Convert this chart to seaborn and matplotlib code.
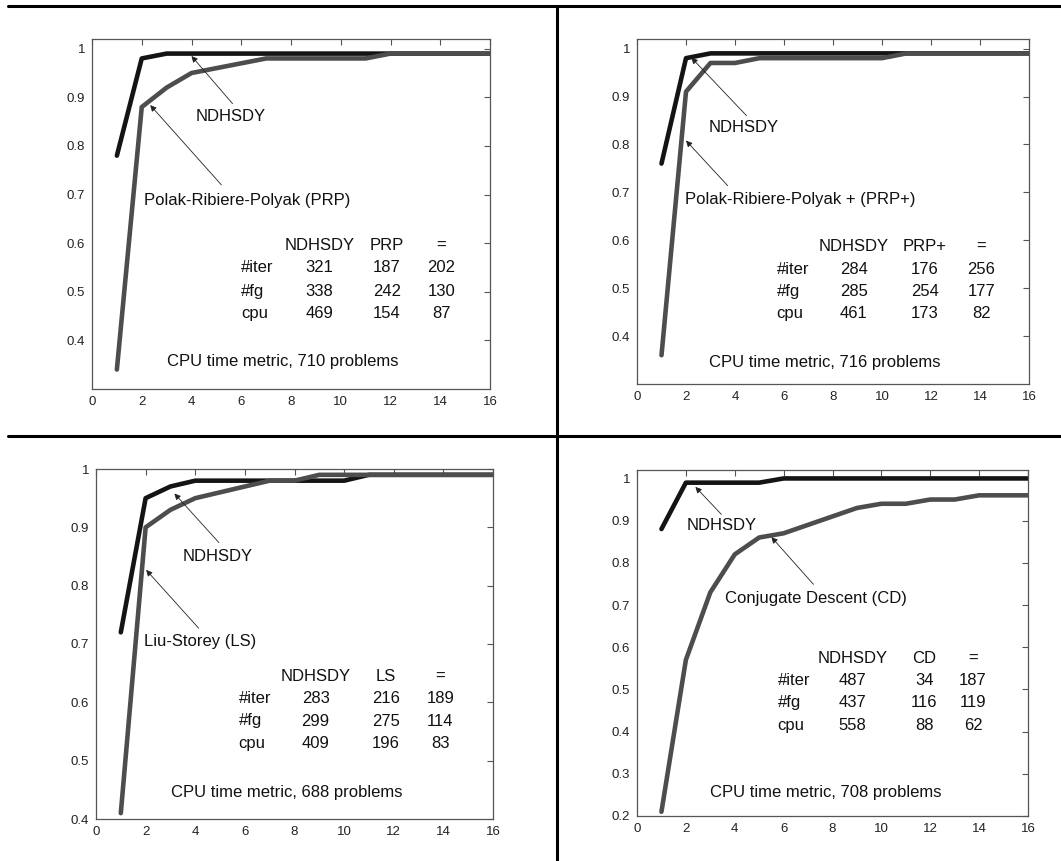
import numpy as np
import pandas as pd
import matplotlib
matplotlib.use("Agg")
import matplotlib.pyplot as plt
from matplotlib.ticker import FuncFormatter, MultipleLocator
import seaborn as sns

# ---- data ----
x_vals = list(range(1, 17))

prp_ndhsdy = [0.78, 0.98, 0.99, 0.99, 0.99, 0.99, 0.99, 0.99, 0.99, 0.99, 0.99, 0.99, 0.99, 0.99, 0.99, 0.99]
prp_other = [0.34, 0.88, 0.92, 0.95, 0.96, 0.97, 0.98, 0.98, 0.98, 0.98, 0.98, 0.99, 0.99, 0.99, 0.99, 0.99]

prpp_ndhsdy = [0.76, 0.98, 0.99, 0.99, 0.99, 0.99, 0.99, 0.99, 0.99, 0.99, 0.99, 0.99, 0.99, 0.99, 0.99, 0.99]
prpp_other = [0.36, 0.91, 0.97, 0.97, 0.98, 0.98, 0.98, 0.98, 0.98, 0.98, 0.99, 0.99, 0.99, 0.99, 0.99, 0.99]

ls_ndhsdy = [0.72, 0.95, 0.97, 0.98, 0.98, 0.98, 0.98, 0.98, 0.98, 0.98, 0.99, 0.99, 0.99, 0.99, 0.99, 0.99]
ls_other = [0.41, 0.90, 0.93, 0.95, 0.96, 0.97, 0.98, 0.98, 0.99, 0.99, 0.99, 0.99, 0.99, 0.99, 0.99, 0.99]

cd_ndhsdy = [0.88, 0.99, 0.99, 0.99, 0.99, 1.00, 1.00, 1.00, 1.00, 1.00, 1.00, 1.00, 1.00, 1.00, 1.00, 1.00]
cd_other = [0.21, 0.57, 0.73, 0.82, 0.86, 0.87, 0.89, 0.91, 0.93, 0.94, 0.94, 0.95, 0.95, 0.96, 0.96, 0.96]

row_labels = ["#iter", "#fg", "cpu"]
prp_table = [[321, 187, 202], [338, 242, 130], [469, 154, 87]]
prpp_table = [[284, 176, 256], [285, 254, 177], [461, 173, 82]]
ls_table = [[283, 216, 189], [299, 275, 114], [409, 196, 83]]
cd_table = [[487, 34, 187], [437, 116, 119], [558, 88, 62]]

sns.set_style("white")
plt.rcParams["font.family"] = ["Liberation Sans", "DejaVu Sans"]

W, H = 1061, 861
fig = plt.figure(figsize=(W / 100, H / 100), dpi=100)
fig.patch.set_facecolor("white")


def px_axes(l, t, r, b):
    return fig.add_axes([l / W, 1 - b / H, (r - l) / W, (b - t) / H])


def draw_panel(box, ndhsdy, other, short, long_name, table, problems, ylim, yticks,
               nd_arrow, nd_text, ot_arrow, ot_text, tab_y, tab_cols, tab_x, cap_xy):
    ax = px_axes(*box)
    df = pd.DataFrame({
        "tau": x_vals * 2,
        "rho": ndhsdy + other,
        "solver": ["NDHSDY"] * len(x_vals) + [short] * len(x_vals),
    })
    sns.lineplot(data=df, x="tau", y="rho", hue="solver",
                 palette={"NDHSDY": "#141414", short: "#4d4d4d"},
                 linewidth=3.3, legend=False, ax=ax, sort=False)
    ax.set_xlim(0, 16)
    ax.set_ylim(*ylim)
    ax.set_xlabel("")
    ax.set_ylabel("")
    ax.xaxis.set_major_locator(MultipleLocator(2))
    ax.set_yticks(yticks)
    ax.yaxis.set_major_formatter(FuncFormatter(lambda v, _: f"{v:g}"))
    ax.tick_params(direction="in", length=4, width=0.8, top=True, right=True,
                   labelsize=9.5, colors="#555555", labelcolor="#222222", pad=5)
    for s in ax.spines.values():
        s.set_color("#555555")
        s.set_linewidth(0.9)
    arrow = dict(arrowstyle="-|>", lw=0.6, color="#222222", mutation_scale=9,
                 shrinkA=0, shrinkB=0)
    ax.annotate("", xy=nd_arrow[0], xytext=nd_arrow[1], arrowprops=arrow)
    ax.annotate("", xy=ot_arrow[0], xytext=ot_arrow[1], arrowprops=arrow)
    ax.text(*nd_text, "NDHSDY", fontsize=12, ha="left", va="center", color="#111111")
    ax.text(*ot_text, long_name, fontsize=12, ha="left", va="center", color="#111111")
    # stats table
    heads = ["NDHSDY", short, "="]
    for cx, h in zip(tab_cols, heads):
        ax.text(cx, tab_y[0], h, fontsize=12, ha="center", va="center", color="#111111")
    for ry, lab, vals in zip(tab_y[1:], row_labels, table):
        ax.text(tab_x, ry, lab, fontsize=12, ha="left", va="center", color="#111111")
        for cx, v in zip(tab_cols, vals):
            ax.text(cx, ry, str(v), fontsize=12, ha="center", va="center", color="#111111")
    ax.text(*cap_xy, f"CPU time metric, {problems} problems", fontsize=12,
            ha="left", va="center", color="#111111")
    return ax


ticks_04 = [0.4, 0.5, 0.6, 0.7, 0.8, 0.9, 1.0]
ticks_02 = [0.2, 0.3, 0.4, 0.5, 0.6, 0.7, 0.8, 0.9, 1.0]

draw_panel((92, 39, 490, 389), prp_ndhsdy, prp_other, "PRP", "Polak-Ribiere-Polyak (PRP)",
           prp_table, 710, (0.30, 1.02), ticks_04,
           ((4.0, 0.985), (5.65, 0.887)), (4.18, 0.86),
           ((2.34, 0.884), (5.2, 0.72)), (2.1, 0.687),
           (0.595, 0.549, 0.50, 0.456), (9.15, 11.85, 14.05), 6.0, (3.0, 0.357))

draw_panel((637, 39, 1029, 384), prpp_ndhsdy, prpp_other, "PRP+", "Polak-Ribiere-Polyak + (PRP+)",
           prpp_table, 716, (0.30, 1.02), ticks_04,
           ((2.22, 0.981), (4.47, 0.86)), (2.94, 0.836),
           ((2.0, 0.808), (3.7, 0.714)), (1.97, 0.685),
           (0.587, 0.539, 0.494, 0.447), (8.85, 11.75, 14.05), 5.7, (2.94, 0.345))

draw_panel((96, 469, 493, 819), ls_ndhsdy, ls_other, "LS", "Liu-Storey (LS)",
           ls_table, 688, (0.40, 1.00), ticks_04,
           ((3.16, 0.958), (4.95, 0.874)), (3.5, 0.85),
           ((2.02, 0.827), (4.14, 0.727)), (1.95, 0.704),
           (0.645, 0.607, 0.568, 0.53), (8.85, 11.68, 13.88), 5.75, (3.02, 0.445))

draw_panel((637, 470, 1028, 816), cd_ndhsdy, cd_other, "CD", "Conjugate Descent (CD)",
           cd_table, 708, (0.20, 1.02), ticks_02,
           ((2.39, 0.98), (3.45, 0.915)), (2.05, 0.889),
           ((5.5, 0.861), (7.22, 0.749)), (3.62, 0.715),
           (0.573, 0.521, 0.469, 0.414), (8.82, 11.76, 13.75), 5.75, (3.0, 0.256))

# frame lines separating the four panels
fig.add_artist(plt.Line2D([8 / W, 1], [1 - 5.5 / H, 1 - 5.5 / H], color="black", lw=2.2))
fig.add_artist(plt.Line2D([8 / W, 1], [1 - 436 / H, 1 - 436 / H], color="black", lw=2.2))
fig.add_artist(plt.Line2D([557 / W, 557 / W], [0, 1 - 5.5 / H], color="black", lw=2.2))

fig.savefig("out.png", dpi=100)
